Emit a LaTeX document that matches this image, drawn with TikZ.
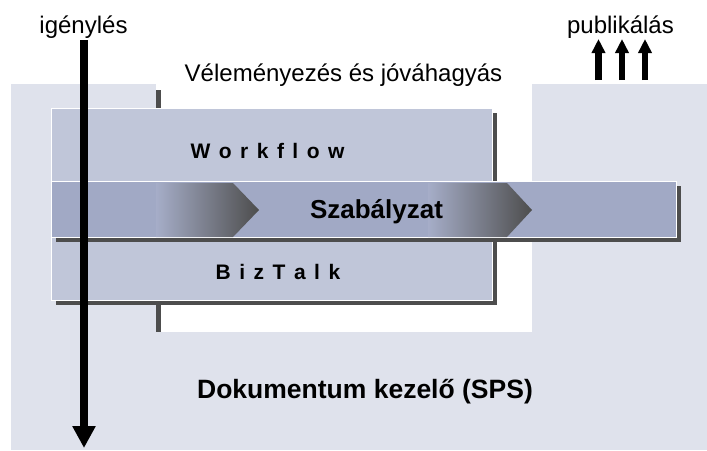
\documentclass[tikz,border=0pt]{standalone}
\usepackage{fontspec}
\setmainfont{Liberation Sans}
\usetikzlibrary{arrows.meta}
\definecolor{bglight}{HTML}{DFE2EC}
\definecolor{boxfill}{HTML}{C0C6D9}
\definecolor{bandfill}{HTML}{A1A9C5}
\definecolor{shadowc}{HTML}{4D4D4D}
\tikzset{
  lbl/.style={anchor=base, inner sep=0pt, font=\fontsize{24}{28}\selectfont},
  boldlbl/.style={anchor=base, inner sep=0pt, font=\fontsize{26}{30}\selectfont\bfseries},
  spacedlbl/.style={anchor=base, inner sep=0pt, font=\fontsize{21}{25}\selectfont\bfseries},
  boxstyle/.style={fill=boxfill, draw=white, line width=0.8pt},
  bandstyle/.style={fill=bandfill, draw=white, line width=0.8pt},
  shadowstyle/.style={fill=shadowc},
  chevron/.style={left color=bandfill!95!white, right color=shadowc},
  bigarrow/.style={line width=8pt, -{Triangle[width=22pt,length=22pt]}},
  smallarrow/.style={line width=6.5pt, -{Triangle[width=13pt,length=14pt]}}
}
\newcommand{\gp}{\hspace{8.5pt}}
\begin{document}
\begin{tikzpicture}[x=1pt,y=-1pt]
\useasboundingbox (0,0) rectangle (707,450);
% background
\fill[bglight] (11,84) rectangle (707,450);
\fill[white] (156,84) rectangle (532,332);
\fill[shadowc] (156,90) rectangle (161,332);
% Workflow box
\fill[shadowstyle] (56,113) rectangle (497,186);
\path[boxstyle] (51,108) rectangle (492,181);
% BizTalk box
\fill[shadowstyle] (56,242) rectangle (497,305);
\path[boxstyle] (51,237) rectangle (492,300);
% band
\fill[shadowstyle] (56,186) rectangle (681,242);
\path[bandstyle] (51,181) rectangle (676,237);
% gradient chevrons
\shade[chevron] (156,183) -- (233,183) -- (259,210) -- (233,237) -- (156,237) -- cycle;
\shade[chevron] (428,183) -- (507,183) -- (532,210) -- (507,237) -- (428,237) -- cycle;
% texts
\node[lbl] (ig) at (83.5,33) {igénylés};
\node[lbl] (pub) at (620.5,33) {publikálás};
\node[lbl] (vel) at (343.5,81) {Véleményezés és jóváhagyás};
\node[spacedlbl] (wf) at (267.5,158) {W\gp o\gp r\gp k\gp f\gp l\gp o\gp w};
\node[spacedlbl] (bt) at (278,279) {B\gp i\gp z\gp T\gp a\gp l\gp k};
\node[boldlbl] (sz) at (376.5,218) {Szabályzat};
\node[boldlbl, font=\fontsize{26.5}{30}\selectfont\bfseries] (dk) at (365,398) {Dokumentum kezelő (SPS)};
% arrows
\coordinate (igtop) at (84,40);
\coordinate (igbot) at (84,448);
\draw[bigarrow] (igtop) -- (igbot);
\coordinate (p1a) at (598.5,80); \coordinate (p1b) at (598.5,39);
\coordinate (p2a) at (622,80);   \coordinate (p2b) at (622,39);
\coordinate (p3a) at (645,80);   \coordinate (p3b) at (645,39);
\draw[smallarrow] (p1a) -- (p1b);
\draw[smallarrow] (p2a) -- (p2b);
\draw[smallarrow] (p3a) -- (p3b);
\end{tikzpicture}
\end{document}
